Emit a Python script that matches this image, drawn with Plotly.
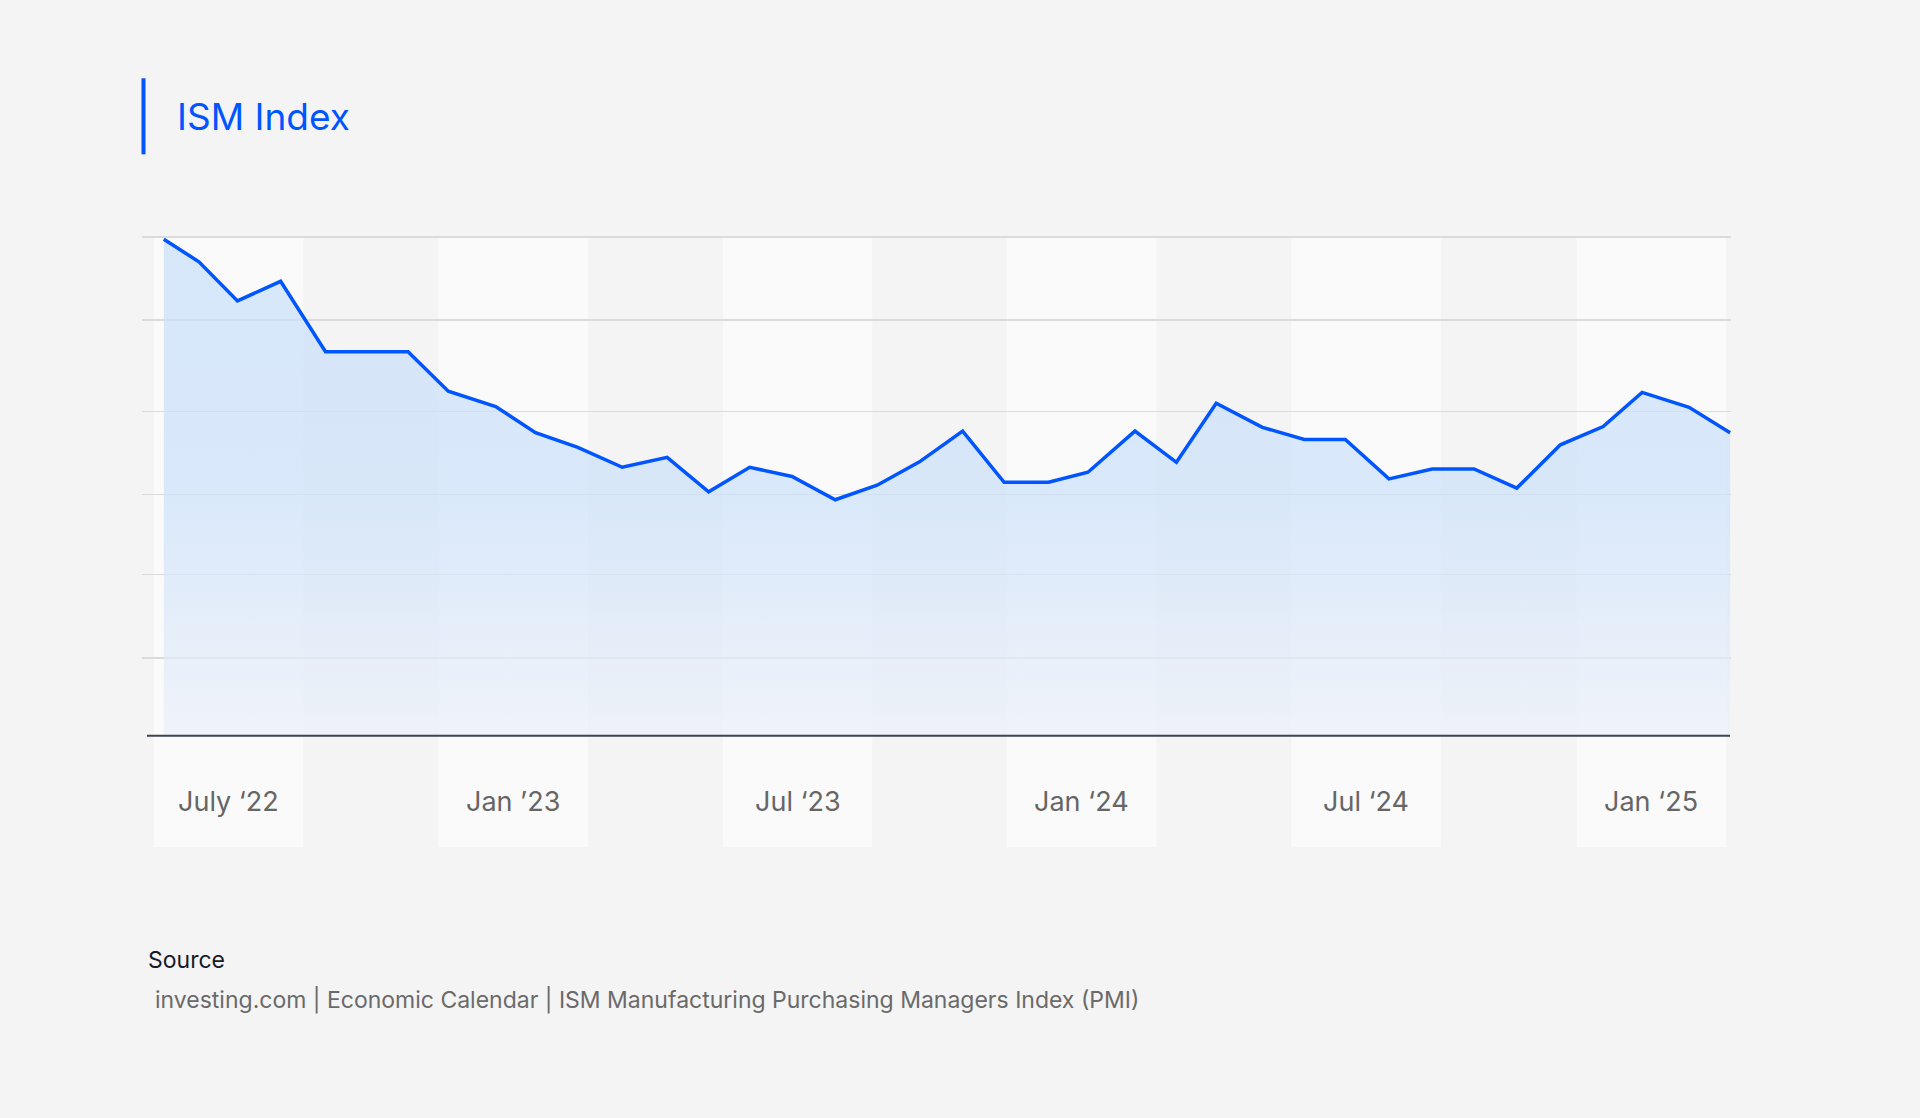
import plotly.graph_objects as go

# ---------------- data ----------------
title_text = "ISM Index"
x_pos = [0, 0.83, 1.74, 2.76, 3.82, 4.79, 5.77, 6.72, 7.84, 8.78,
         9.78, 10.83, 11.89, 12.87, 13.84, 14.84, 15.86, 16.85, 17.85, 18.87,
         19.85, 20.90, 21.83, 22.94, 23.92, 24.86, 25.95, 26.94, 27.91, 28.94,
         29.96, 30.95, 31.96, 32.99, 34.00, 34.92, 36.03, 37.00]
pmi = [53.94, 53.40, 52.46, 52.93, 51.24, 51.24, 51.24, 50.29, 49.92, 49.29,
       48.94, 48.46, 48.70, 47.87, 48.46, 48.24, 47.68, 48.03, 48.59, 49.33,
       48.10, 48.10, 48.34, 49.33, 48.58, 50.00, 49.42, 49.13, 49.13, 48.18,
       48.42, 48.42, 47.96, 49.00, 49.44, 50.26, 49.90, 49.29]
tick_pos = [1.53, 8.25, 14.97, 21.68, 28.40, 35.14]
tick_labels = ["July \u201822", "Jan \u201923", "Jul \u201823", "Jan \u201824", "Jul \u201824", "Jan \u201825"]
grid_vals = [43.88, 45.88, 47.8, 49.8, 52.0, 54.0]
y_min, y_max = 42, 54.26
source_title = "Source"
source_text = "investing.com | Economic Calendar | ISM Manufacturing Purchasing Managers Index (PMI)"

# ---------------- layout geometry ----------------
W, H = 1920, 1118
ML, MR, MT, MB = 142, 189, 226, 382
PW, PH = W - ML - MR, H - MT - MB


def px_x(X):
    return (X - ML) / PW


def px_y(Y):
    return (H - MB - Y) / PH


BLUE = "#0055FF"
BG = "#F4F4F4"
BAND = "#FAFAFA"

fig = go.Figure()

fig.add_trace(go.Scatter(
    x=x_pos, y=pmi, mode="lines",
    line=dict(color=BLUE, width=3.5),
    fill="tozeroy",
    fillgradient=dict(
        type="vertical",
        start=54, stop=42,
        colorscale=[[0, "rgba(201,224,250,0.72)"],
                    [0.5, "rgba(204,226,250,0.72)"],
                    [0.68, "rgba(214,230,250,0.72)"],
                    [1, "rgba(236,241,249,0.72)"]],
    ),
    hoverinfo="skip", showlegend=False,
))

shapes = []
half_band = 1.765
for c in tick_pos:
    shapes.append(dict(type="rect", xref="x", yref="paper",
                       x0=c - half_band, x1=c + half_band,
                       y0=px_y(847), y1=px_y(236.7),
                       fillcolor=BAND, line=dict(width=0), layer="below"))
# axis baseline
shapes.append(dict(type="line", xref="paper", yref="paper",
                   x0=px_x(147), x1=px_x(1730), y0=px_y(735.7), y1=px_y(735.7),
                   line=dict(color="#3d4350", width=2), layer="above"))
# title accent bar
shapes.append(dict(type="rect", xref="paper", yref="paper",
                   x0=px_x(141.5), x1=px_x(145.5), y0=px_y(154.3), y1=px_y(78.3),
                   fillcolor=BLUE, line=dict(width=0)))

annotations = [
    dict(text=title_text, xref="paper", yref="paper", x=px_x(175), y=px_y(116.4),
         xanchor="left", yanchor="middle", showarrow=False,
         font=dict(family="Inter", size=37, color=BLUE)),
    dict(text=source_title, xref="paper", yref="paper", x=px_x(146), y=px_y(960.4),
         xanchor="left", yanchor="middle", showarrow=False,
         font=dict(family="Inter", size=23, color="#141a2b")),
    dict(text=source_text, xref="paper", yref="paper", x=px_x(153), y=px_y(999.5),
         xanchor="left", yanchor="middle", showarrow=False,
         font=dict(family="Inter", size=23, color="#6a6a6a")),
]
for xp, lab in zip(tick_pos, tick_labels):
    annotations.append(dict(text=lab, xref="x", yref="paper", x=xp, y=px_y(801),
                            xanchor="center", yanchor="middle", showarrow=False,
                            font=dict(family="Inter", size=27, color="#666666")))

fig.update_layout(
    width=W, height=H,
    margin=dict(l=ML, r=MR, t=MT, b=MB, pad=0),
    paper_bgcolor=BG, plot_bgcolor=BG,
    shapes=shapes, annotations=annotations,
    showlegend=False,
    xaxis=dict(range=[-0.515, 37.02], showgrid=False, zeroline=False,
               showline=False, showticklabels=False, ticks=""),
    yaxis=dict(range=[y_min, y_max], tickvals=grid_vals, showgrid=True,
               gridcolor="#DBDBDB", gridwidth=1.5, zeroline=False,
               showline=False, showticklabels=False, ticks=""),
)

fig.write_html(
    "out.html",
    config={"displayModeBar": False, "staticPlot": True},
    post_script="document.body.style.margin='0';document.body.style.background='#F4F4F4';",
)
